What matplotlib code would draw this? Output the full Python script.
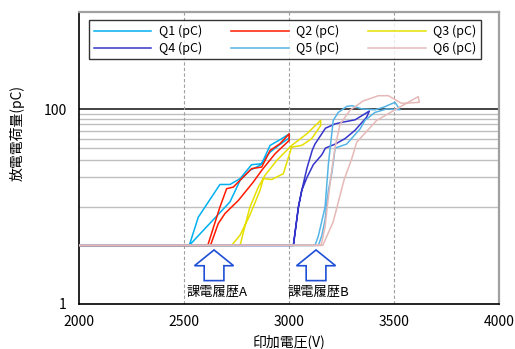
import matplotlib
matplotlib.use("Agg")
import matplotlib.pyplot as plt
import matplotlib.patches as patches
import matplotlib.transforms as mtransforms
from matplotlib.ticker import FixedLocator, NullLocator

plt.rcParams['font.family'] = ['Noto Sans CJK JP', 'DejaVu Sans']

# 印加電圧 (V) と放電電荷量 (pC)：上昇→ピーク→下降のループ
q1_v = [2000, 2524, 2567, 2670, 2718, 2766, 2821, 2869, 2909, 2956, 3001,
        3001, 2956, 2909, 2861, 2813, 2766, 2718, 2524, 2000]
q1_q = [4, 4, 7.8, 16.9, 16.9, 19.4, 27.0, 27.6, 42.6, 48.7, 56,
        51, 43.6, 36.3, 26.6, 23.6, 18.6, 11.2, 4, 4]

q2_v = [2000, 2612, 2670, 2702, 2734, 2821, 2869, 2909, 2956, 3000,
        3000, 2933, 2869, 2829, 2758, 2694, 2662, 2625, 2000]
q2_q = [4, 4, 9.9, 15.3, 15.9, 24.6, 25.5, 37.8, 44.3, 56,
        47.9, 35, 23.6, 17.9, 11.6, 8.5, 6.7, 4, 4]

q3_v = [2000, 2766, 2790, 2813, 2853, 2885, 2941, 2988, 3012, 3084, 3150,
        3150, 3107, 3060, 3012, 2972, 2917, 2877, 2861, 2813, 2766, 2726, 2000]
q3_q = [4, 4, 6.4, 9.9, 15.9, 21, 29.9, 37.8, 42.6, 56, 77,
        68, 49.9, 42.6, 40.9, 21.8, 19, 19.4, 14.7, 8.2, 5.1, 4, 4]

q4_v = [2000, 3020, 3044, 3060, 3085, 3110, 3123, 3173, 3220, 3258, 3314, 3382,
        3369, 3314, 3266, 3220, 3173, 3155, 3115, 3085, 3060, 3044, 3020, 2000]
q4_q = [4, 4, 9.9, 14.7, 25, 38, 44, 64, 71, 74, 78, 96,
        83, 61, 50, 44, 40, 34, 27, 20, 14.7, 9.9, 4, 4]

q5_v = [2000, 3123, 3139, 3155, 3171, 3187, 3210, 3234, 3274, 3300, 3346, 3409,
        3449, 3504, 3528, 3465, 3409, 3361, 3338, 3274, 3219, 3203, 3187, 3171,
        3155, 3139, 2000]
q5_q = [4, 4, 5, 7, 9.9, 27.6, 77, 93, 107, 109, 101, 99,
        105, 118, 99, 101, 93, 77, 63, 44, 40, 22, 14.7, 7.3,
        5, 4, 4]

q6_v = [2000, 3152, 3171, 3187, 3203, 3219, 3242, 3290, 3353, 3425, 3473, 3536,
        3620, 3615, 3512, 3417, 3322, 3298, 3262, 3210, 3160, 2000]
q6_q = [4, 4, 6.2, 12.6, 23.6, 40.9, 70, 98, 122, 138, 138, 115,
        118, 135, 101, 77, 46, 31, 19, 7, 4, 4]

series = [
    ("Q1 (pC)", q1_v, q1_q, "#00b0f0"),
    ("Q2 (pC)", q2_v, q2_q, "#ff1a00"),
    ("Q3 (pC)", q3_v, q3_q, "#e6e000"),
    ("Q4 (pC)", q4_v, q4_q, "#3535cc"),
    ("Q5 (pC)", q5_v, q5_q, "#55b4e6"),
    ("Q6 (pC)", q6_v, q6_q, "#e6b9b8"),
]

x_ticks = [2000, 2500, 3000, 3500, 4000]
y_ticks = [1, 100]
minor_grid = [10, 20, 30, 40, 50, 60, 70, 80, 90]

# 課電履歴の矢印 (中心電圧)
arrow_x = [2642, 3128]
arrow_labels = ["課電履歴A", "課電履歴B"]

fig = plt.figure(figsize=(5.15, 3.49), dpi=100)
ax = fig.add_axes([0.154, 0.129, 0.815, 0.8366])

ax.set_yscale('log')
ax.set_xlim(2000, 4000)
ax.set_ylim(1, 1000)

for v in minor_grid:
    ax.axhline(v, color='#bfbfbf', lw=1.0, zorder=1)
ax.axhline(100, color='#222222', lw=1.2, zorder=1)
for v in [2500, 3000, 3500]:
    ax.axvline(v, color='#a0a0a0', lw=0.8, ls=(0, (3, 2)), zorder=1)

lines = []
for name, v, q, c in series:
    ln, = ax.plot(v, q, color=c, lw=1.1, label=name, zorder=3)
    lines.append(ln)

ax.xaxis.set_major_locator(FixedLocator(x_ticks))
ax.set_xticklabels([str(t) for t in x_ticks])
ax.yaxis.set_major_locator(FixedLocator(y_ticks))
ax.yaxis.set_minor_locator(NullLocator())
ax.set_yticklabels([str(t) for t in y_ticks])
ax.tick_params(axis='x', length=0, pad=8, labelsize=10)
ax.tick_params(axis='y', length=0, pad=9, labelsize=10)

for s in ['left', 'bottom']:
    ax.spines[s].set_color('black')
    ax.spines[s].set_linewidth(1.2)
for s in ['top', 'right']:
    ax.spines[s].set_color('#a0a0a0')
    ax.spines[s].set_linewidth(1.6)

ax.set_xlabel("印加電圧(V)", fontsize=10)
ax.xaxis.set_label_coords(0.5, -0.105)
ax.set_ylabel("放電電荷量(pC)", fontsize=10)
ax.yaxis.set_label_coords(-0.13, 0.586)

# 中抜き矢印
trans = mtransforms.blended_transform_factory(ax.transData, ax.transAxes)
for xc, lab in zip(arrow_x, arrow_labels):
    hw, sw = 93, 47
    pts = [(xc, 0.185), (xc + hw, 0.131), (xc + sw, 0.131), (xc + sw, 0.080),
           (xc - sw, 0.080), (xc - sw, 0.131), (xc - hw, 0.131)]
    ax.add_patch(patches.Polygon(pts, closed=True, transform=trans,
                                 facecolor='white', edgecolor='#1f4fd6',
                                 lw=1.2, zorder=4))
    ax.text(xc + 12, 0.042, lab, transform=trans, ha='center', va='center',
            fontsize=9.5, zorder=5)

# 凡例は行方向に Q1 Q2 Q3 / Q4 Q5 Q6
order = [0, 3, 1, 4, 2, 5]
leg = ax.legend([lines[i] for i in order], [series[i][0] for i in order],
                ncol=3, loc='lower left', bbox_to_anchor=(0.024, 0.838, 0.933, 0.132),
                mode='expand', fontsize=9, frameon=True, fancybox=False,
                handlelength=4.6, handletextpad=0.6, borderaxespad=0,
                labelspacing=0.3, borderpad=0.35)
leg.get_frame().set_edgecolor('black')
leg.get_frame().set_linewidth(1.0)

fig.savefig("out.png", dpi=100)
